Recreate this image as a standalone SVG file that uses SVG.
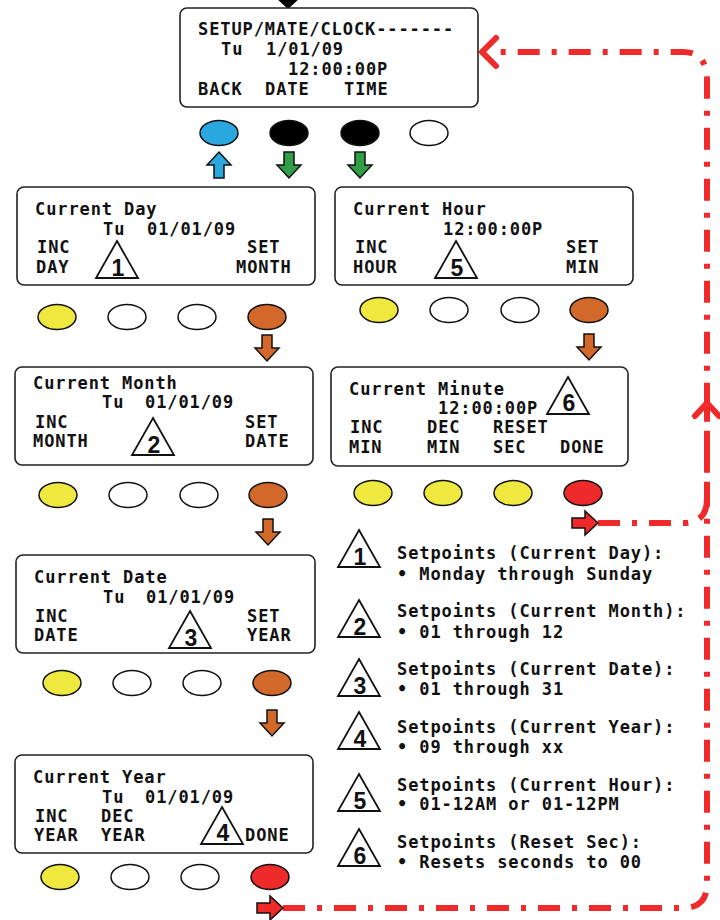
<svg xmlns="http://www.w3.org/2000/svg" xmlns:xlink="http://www.w3.org/1999/xlink" width="720" height="920" viewBox="0 0 720 920">
<style>
.box{fill:#fff;stroke:#222;stroke-width:1.6}
.t{font-family:"DejaVu Sans Mono","Liberation Mono",monospace;font-weight:bold;font-size:17px;letter-spacing:0.9px;fill:#111}
.tri{fill:#fff;stroke:#111;stroke-width:1.8;stroke-linejoin:miter}
.n{font-family:"Liberation Sans",Arial,sans-serif;font-weight:bold;font-size:23px;fill:#111;text-anchor:middle}
.b{stroke:#111;stroke-width:1.5}
.y{fill:#efe93f}.w{fill:#fff}.o{fill:#d2692b}.r{fill:#ee2a2a}.k{fill:#000}.bl{fill:#2ba7df}
.ar{stroke:#111;stroke-width:1.5;stroke-linejoin:miter}
.dash{fill:none;stroke:#ee2a2a;stroke-width:6;stroke-dasharray:22 12 5 12}
.head{fill:none;stroke:#ee2a2a;stroke-width:6;stroke-linecap:round;stroke-linejoin:round}
</style>
<defs>
<path id="dn" d="M-5,0 H5 V13 H12 L0,26 L-12,13 H-5 Z"/>
<path id="rt" d="M0,-5 H13 V-12 L26,0 L13,12 V5 H0 Z"/>
<path id="tr" d="M0,0 L21,37 L-21,37 Z"/>
</defs>

<g id="connectors">
<polygon points="276,-2 300,-2 288,9" fill="#000"/>
<path class="dash" d="M283,908 H683 Q707,908 707,884 V80 Q707,52 683,52 H490"/>
<polyline class="head" points="496,38 482,52 496,66"/>
<path class="dash" d="M598,523 H683 Q707,523 707,499 V406"/>
<polyline class="head" points="695,416 707,403 719,416"/>
<use href="#dn" x="219" y="152" transform="rotate(180 219 165)" class="ar bl"/>
<use href="#dn" x="289" y="152" class="ar" fill="#2f9e47"/>
<use href="#dn" x="360" y="152" class="ar" fill="#2f9e47"/>
<use href="#dn" x="267" y="335" class="ar o"/>
<use href="#dn" x="589" y="334" class="ar o"/>
<use href="#dn" x="268" y="519" class="ar o"/>
<use href="#dn" x="272" y="710" class="ar o"/>
<use href="#rt" x="572" y="523" class="ar r"/>
<use href="#rt" x="257" y="908" class="ar r"/>
</g>

<g id="setup-clock">
<rect class="box" x="180" y="8" width="298" height="99" rx="7"/>
<text class="t" x="198" y="35">SETUP/MATE/CLOCK-------</text>
<text class="t" x="221" y="55">Tu</text><text class="t" x="266" y="55">1/01/09</text>
<text class="t" x="288" y="75">12:00:00P</text>
<text class="t" x="198" y="95">BACK</text><text class="t" x="265" y="95">DATE</text><text class="t" x="344" y="95">TIME</text>
<ellipse class="b bl" cx="219" cy="133" rx="19" ry="12.5"/>
<ellipse class="b k" cx="289" cy="133" rx="19" ry="12.5"/>
<ellipse class="b k" cx="360" cy="133" rx="19" ry="12.5"/>
<ellipse class="b w" cx="429" cy="133" rx="19" ry="12.5"/>
</g>

<g id="current-day">
<rect class="box" x="17" y="187" width="298" height="98" rx="7"/>
<text class="t" x="35" y="215">Current Day</text>
<text class="t" x="103" y="235">Tu</text><text class="t" x="147" y="235">01/01/09</text>
<text class="t" x="37" y="253">INC</text><text class="t" x="36" y="273">DAY</text>
<text class="t" x="247" y="253">SET</text><text class="t" x="236" y="273">MONTH</text>
<use href="#tr" x="117" y="241" class="tri"/><text class="n" x="118" y="276">1</text>
<ellipse class="b y" cx="57" cy="317" rx="19" ry="12.5"/>
<ellipse class="b w" cx="127" cy="317" rx="19" ry="12.5"/>
<ellipse class="b w" cx="197" cy="317" rx="19" ry="12.5"/>
<ellipse class="b o" cx="267" cy="317" rx="19" ry="12.5"/>
</g>

<g id="current-hour">
<rect class="box" x="335" y="187" width="298" height="98" rx="7"/>
<text class="t" x="353" y="215">Current Hour</text>
<text class="t" x="443" y="235">12:00:00P</text>
<text class="t" x="355" y="253">INC</text><text class="t" x="353" y="273">HOUR</text>
<text class="t" x="566" y="253">SET</text><text class="t" x="566" y="273">MIN</text>
<use href="#tr" x="456" y="241" class="tri"/><text class="n" x="457" y="276">5</text>
<ellipse class="b y" cx="379" cy="310" rx="19" ry="12.5"/>
<ellipse class="b w" cx="449" cy="310" rx="19" ry="12.5"/>
<ellipse class="b w" cx="520" cy="310" rx="19" ry="12.5"/>
<ellipse class="b o" cx="589" cy="310" rx="19" ry="12.5"/>
</g>

<g id="current-month">
<rect class="box" x="15" y="367" width="298" height="98" rx="7"/>
<text class="t" x="33" y="389">Current Month</text>
<text class="t" x="102" y="408">Tu</text><text class="t" x="145" y="408">01/01/09</text>
<text class="t" x="35" y="428">INC</text><text class="t" x="33" y="447">MONTH</text>
<text class="t" x="245" y="428">SET</text><text class="t" x="245" y="447">DATE</text>
<use href="#tr" x="153" y="418" class="tri"/><text class="n" x="154" y="453">2</text>
<ellipse class="b y" cx="58" cy="495" rx="19" ry="12.5"/>
<ellipse class="b w" cx="128" cy="495" rx="19" ry="12.5"/>
<ellipse class="b w" cx="199" cy="495" rx="19" ry="12.5"/>
<ellipse class="b o" cx="268" cy="495" rx="19" ry="12.5"/>
</g>

<g id="current-minute">
<rect class="box" x="331" y="367" width="297" height="99" rx="7"/>
<text class="t" x="349" y="395">Current Minute</text>
<text class="t" x="438" y="414">12:00:00P</text>
<use href="#tr" x="568" y="377" class="tri"/><text class="n" x="569" y="411">6</text>
<text class="t" x="350" y="433">INC</text><text class="t" x="349" y="453">MIN</text>
<text class="t" x="427" y="433">DEC</text><text class="t" x="427" y="453">MIN</text>
<text class="t" x="493" y="433">RESET</text><text class="t" x="493" y="453">SEC</text>
<text class="t" x="560" y="453">DONE</text>
<ellipse class="b y" cx="373" cy="493" rx="19" ry="12.5"/>
<ellipse class="b y" cx="443" cy="493" rx="19" ry="12.5"/>
<ellipse class="b y" cx="513" cy="493" rx="19" ry="12.5"/>
<ellipse class="b r" cx="583" cy="493" rx="19" ry="12.5"/>
</g>

<g id="current-date">
<rect class="box" x="16" y="555" width="299" height="98" rx="7"/>
<text class="t" x="34" y="583">Current Date</text>
<text class="t" x="103" y="603">Tu</text><text class="t" x="146" y="603">01/01/09</text>
<text class="t" x="35" y="622">INC</text><text class="t" x="34" y="641">DATE</text>
<text class="t" x="247" y="622">SET</text><text class="t" x="247" y="641">YEAR</text>
<use href="#tr" x="190" y="611" class="tri"/><text class="n" x="191" y="646">3</text>
<ellipse class="b y" cx="62" cy="683" rx="19" ry="12.5"/>
<ellipse class="b w" cx="132" cy="683" rx="19" ry="12.5"/>
<ellipse class="b w" cx="202" cy="683" rx="19" ry="12.5"/>
<ellipse class="b o" cx="272" cy="683" rx="19" ry="12.5"/>
</g>

<g id="current-year">
<rect class="box" x="15" y="755" width="298" height="98" rx="7"/>
<text class="t" x="33" y="783">Current Year</text>
<text class="t" x="102" y="803">Tu</text><text class="t" x="145" y="803">01/01/09</text>
<text class="t" x="35" y="822">INC</text><text class="t" x="34" y="841">YEAR</text>
<text class="t" x="101" y="822">DEC</text><text class="t" x="101" y="841">YEAR</text>
<use href="#tr" x="222" y="807" class="tri"/><text class="n" x="223" y="841">4</text>
<text class="t" x="245" y="841">DONE</text>
<ellipse class="b y" cx="60" cy="877" rx="19" ry="12.5"/>
<ellipse class="b w" cx="130" cy="877" rx="19" ry="12.5"/>
<ellipse class="b w" cx="200" cy="877" rx="19" ry="12.5"/>
<ellipse class="b r" cx="270" cy="877" rx="19" ry="12.5"/>
</g>

<g id="legend">
<use href="#tr" x="359" y="530" class="tri"/><text class="n" x="360" y="565">1</text>
<text class="t" x="397" y="559">Setpoints (Current Day):</text>
<text class="t" x="397" y="580">• Monday through Sunday</text>
<use href="#tr" x="359" y="600" class="tri"/><text class="n" x="360" y="635">2</text>
<text class="t" x="397" y="617">Setpoints (Current Month):</text>
<text class="t" x="397" y="638">• 01 through 12</text>
<use href="#tr" x="359" y="659" class="tri"/><text class="n" x="360" y="694">3</text>
<text class="t" x="397" y="675">Setpoints (Current Date):</text>
<text class="t" x="397" y="695">• 01 through 31</text>
<use href="#tr" x="359" y="712" class="tri"/><text class="n" x="360" y="747">4</text>
<text class="t" x="397" y="733">Setpoints (Current Year):</text>
<text class="t" x="397" y="753">• 09 through xx</text>
<use href="#tr" x="359" y="774" class="tri"/><text class="n" x="360" y="809">5</text>
<text class="t" x="397" y="791">Setpoints (Current Hour):</text>
<text class="t" x="397" y="810">• 01-12AM or 01-12PM</text>
<use href="#tr" x="359" y="829" class="tri"/><text class="n" x="360" y="864">6</text>
<text class="t" x="397" y="848">Setpoints (Reset Sec):</text>
<text class="t" x="397" y="868">• Resets seconds to 00</text>
</g>
</svg>
